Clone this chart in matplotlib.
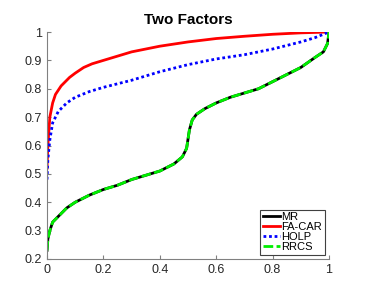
import matplotlib
matplotlib.use("Agg")
import matplotlib.pyplot as plt
import numpy as np

plt.rcParams['font.family'] = ['Liberation Sans', 'DejaVu Sans']

fa_x = [0, 0.003, 0.01, 0.02, 0.03, 0.05, 0.08, 0.1, 0.13, 0.16, 0.2, 0.25, 0.3, 0.35, 0.4, 0.5, 0.6, 0.7, 0.8, 0.9, 1.0]
fa_y = [0.52, 0.6, 0.7, 0.75, 0.78, 0.81, 0.84, 0.855, 0.875, 0.888, 0.9, 0.915, 0.93, 0.94, 0.95, 0.965, 0.977, 0.985, 0.992, 0.997, 1.0]

holp_x = [0, 0.003, 0.01, 0.02, 0.04, 0.07, 0.1, 0.15, 0.2, 0.3, 0.4, 0.5, 0.6, 0.7, 0.8, 0.9, 0.95, 1.0]
holp_y = [0.48, 0.55, 0.62, 0.68, 0.72, 0.75, 0.77, 0.79, 0.805, 0.83, 0.86, 0.885, 0.905, 0.92, 0.94, 0.965, 0.98, 1.0]

mr_x = [0, 0.003, 0.01, 0.02, 0.04, 0.07, 0.1, 0.15, 0.2, 0.25, 0.3, 0.35, 0.4, 0.45, 0.48, 0.495, 0.505, 0.515, 0.53, 0.56, 0.6, 0.65, 0.7, 0.75, 0.8, 0.85, 0.9, 0.95, 0.98, 0.995, 1.0]
mr_y = [0.23, 0.27, 0.3, 0.33, 0.35, 0.38, 0.4, 0.425, 0.445, 0.46, 0.48, 0.495, 0.51, 0.535, 0.56, 0.59, 0.655, 0.69, 0.71, 0.73, 0.75, 0.77, 0.785, 0.8, 0.825, 0.85, 0.875, 0.91, 0.93, 0.96, 1.0]

rrcs_x = mr_x
rrcs_y = mr_y

fig = plt.figure(figsize=(3.74, 2.91), dpi=100)
ax = fig.add_axes([0.1257, 0.11, 0.754, 0.78])

ax.plot(mr_x, mr_y, color='black', lw=2, label='MR')
ax.plot(fa_x, fa_y, color='#ff0000', lw=2, label='FA-CAR')
ax.plot(holp_x, holp_y, color='#0000ff', lw=2, ls=(0, (1, 1)), label='HOLP')
ax.plot(rrcs_x, rrcs_y, color='#00ee00', lw=2, ls=(0, (3.5, 1.2)), label='RRCS')

ax.set_xlim(0, 1)
ax.set_ylim(0.2, 1)
ax.set_xticks([0, 0.2, 0.4, 0.6, 0.8, 1])
ax.set_xticklabels(['0', '0.2', '0.4', '0.6', '0.8', '1'])
ax.set_yticks([0.2, 0.3, 0.4, 0.5, 0.6, 0.7, 0.8, 0.9, 1])
ax.set_yticklabels(['0.2', '0.3', '0.4', '0.5', '0.6', '0.7', '0.8', '0.9', '1'])
ax.spines['top'].set_visible(False)
ax.spines['right'].set_visible(False)
for s in ['left', 'bottom']:
    ax.spines[s].set_color('#808080')
    ax.spines[s].set_linewidth(0.8)
ax.tick_params(direction='in', length=3, color='#808080', labelsize=9, labelcolor='#262626', width=0.8)
ax.set_title('Two Factors', fontsize=11, fontweight='bold', pad=6)

leg = ax.legend(loc='lower right', fontsize=8, handlelength=1.6, handletextpad=0.1,
                borderpad=0.2, labelspacing=0.0, fancybox=False, framealpha=1,
                borderaxespad=0.4)
leg.get_frame().set_edgecolor('#404040')
leg.get_frame().set_linewidth(0.8)

fig.savefig('out.png', dpi=100)
